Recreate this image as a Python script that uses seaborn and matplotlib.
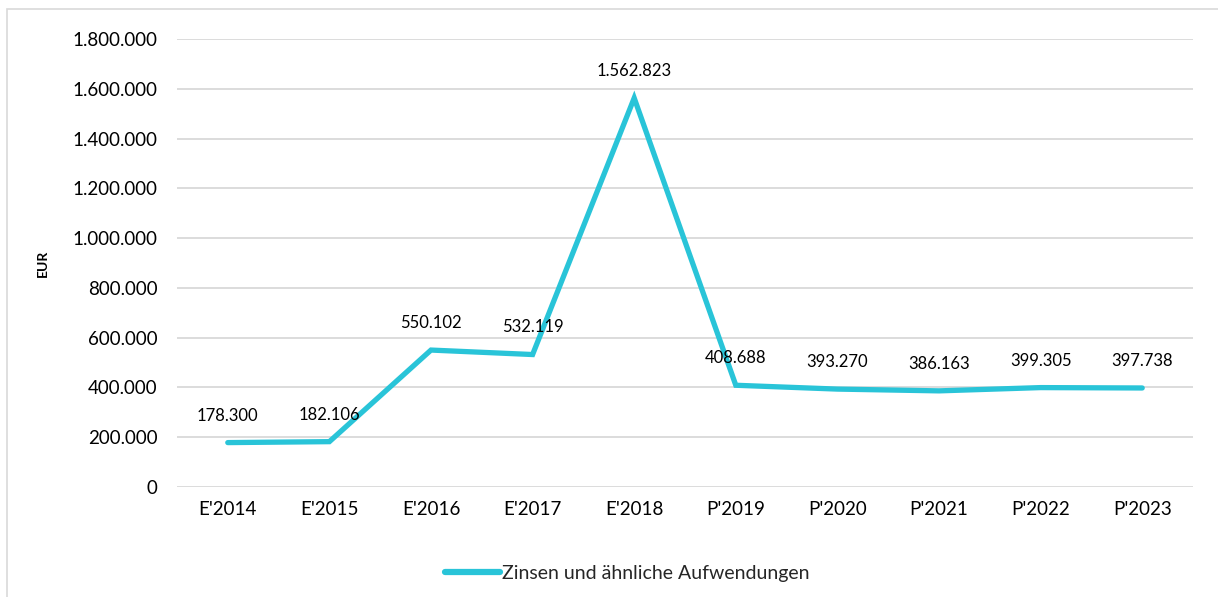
import matplotlib
matplotlib.use("Agg")
import matplotlib.pyplot as plt
import matplotlib.patches as mpatches
from matplotlib.ticker import FuncFormatter
import pandas as pd
import seaborn as sns

# ==========================================================
# DATA
# ==========================================================

years = ["E'2014", "E'2015", "E'2016", "E'2017", "E'2018",
         "P'2019", "P'2020", "P'2021", "P'2022", "P'2023"]
zinsen = [178300, 182106, 550102, 532119, 1562823,
          408688, 393270, 386163, 399305, 397738]
series_name = "Zinsen und ähnliche Aufwendungen"
y_ticks = [0, 200000, 400000, 600000, 800000, 1000000,
           1200000, 1400000, 1600000, 1800000]

df = pd.DataFrame({"year": years, "value": zinsen})
df["series"] = series_name

# ==========================================================
# STYLE
# ==========================================================

sns.set_theme(style="white")
plt.rcParams["font.family"] = ["Lato", "DejaVu Sans"]

LINE_COLOR = "#29C4D8"
GRID_COLOR = "#D9D9D9"


def de_fmt(v, pos=None):
    return f"{int(round(v)):,}".replace(",", ".")


fig = plt.figure(figsize=(12.18, 5.97), dpi=100)
ax = fig.add_axes([0.1453, 0.1843, 0.8342, 0.7504])

# outer chart frame
fig.patches.append(mpatches.Rectangle(
    (0.0057, -0.05), 1.2, 1.035, transform=fig.transFigure,
    fill=False, edgecolor="#D9D9D9", linewidth=1.2, zorder=0))

sns.lineplot(data=df, x="year", y="value", hue="series",
             palette=[LINE_COLOR], linewidth=3.8, sort=False, ax=ax,
             solid_capstyle="round", solid_joinstyle="miter")

for i, v in enumerate(zinsen):
    ax.annotate(de_fmt(v), (i, v), xytext=(0, 19.5), textcoords="offset points",
                ha="center", va="center", fontsize=12, color="#000000")

ax.set_xlim(-0.5, len(years) - 0.5)
ax.set_ylim(0, 1800000)
ax.set_yticks(y_ticks)
ax.yaxis.set_major_formatter(FuncFormatter(de_fmt))
ax.grid(axis="y", color=GRID_COLOR, linewidth=1.3)
ax.set_axisbelow(True)
for s in ax.spines.values():
    s.set_visible(False)
ax.tick_params(axis="both", length=0, labelsize=13.5, colors="#000000", pad=14)
ax.tick_params(axis="x", pad=10)

ax.set_xlabel("")
ax.set_ylabel("EUR", fontsize=10, fontweight="bold", color="#000000")
ax.yaxis.set_label_coords(-0.126, 0.5)

leg = ax.legend(loc="center", bbox_to_anchor=(0.515, 0.04),
                bbox_transform=fig.transFigure, frameon=False,
                fontsize=14, handlelength=2.8, handletextpad=0.1)
for h in leg.get_lines():
    h.set_linewidth(4.5)
    h.set_solid_capstyle("round")

fig.savefig("out.png", dpi=100, facecolor="white")
